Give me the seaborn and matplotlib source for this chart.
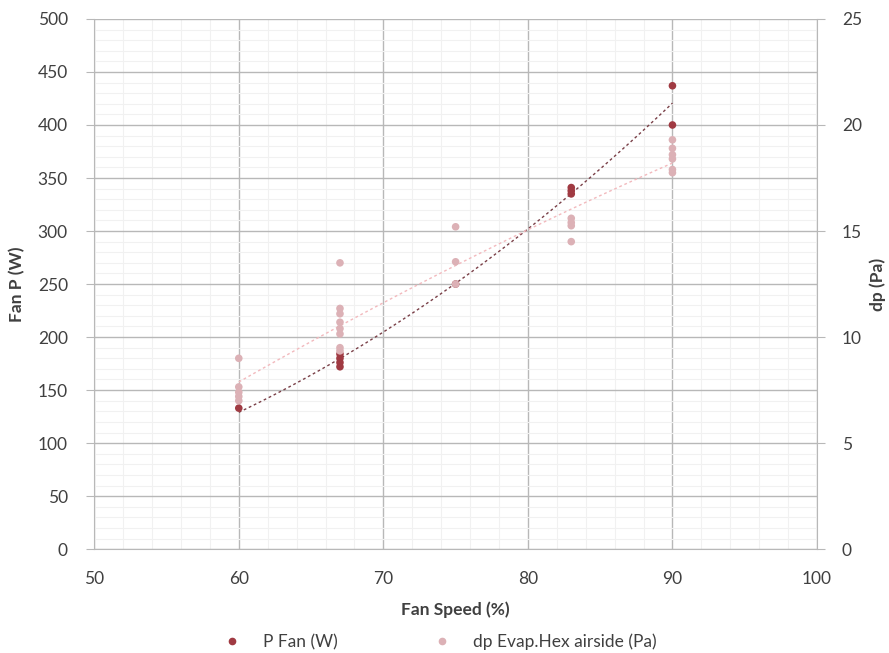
import numpy as np
import pandas as pd
import matplotlib
matplotlib.use("Agg")
import matplotlib.pyplot as plt
import seaborn as sns
from matplotlib.lines import Line2D
from matplotlib.ticker import MultipleLocator

# fan power (W) per fan speed (%)
p_speed = [60, 67, 67, 67, 67, 75, 83, 83, 83, 90, 90]
p_fan = [133, 172, 176, 180, 184, 250, 335, 338, 341, 400, 437]

# airside pressure drop (Pa) per fan speed (%)
dp_speed = [60, 60, 60, 60, 60,
            67, 67, 67, 67, 67, 67, 67, 67,
            75, 75, 75,
            83, 83, 83, 83,
            90, 90, 90, 90, 90, 90]
dp_hex = [9.0, 7.65, 7.4, 7.2, 7.0,
          13.5, 11.35, 11.1, 10.7, 10.4, 10.15, 9.5, 9.35,
          15.2, 13.55, 12.5,
          15.6, 15.4, 15.25, 14.5,
          19.3, 18.9, 18.6, 18.4, 17.9, 17.75]

df_p = pd.DataFrame({"speed": p_speed, "P": p_fan})
df_dp = pd.DataFrame({"speed": dp_speed, "dp": dp_hex})

dark = "#a03a42"
pink = "#dcb1b6"

sns.set_style("white")
plt.rcParams['font.family'] = ['Lato', 'DejaVu Sans']

fig, ax = plt.subplots(figsize=(8.89, 6.53), dpi=100)
fig.subplots_adjust(left=0.106, right=0.919, top=0.971, bottom=0.159)
ax2 = ax.twinx()

# trend lines (polynomial fits of the points)
xs = np.linspace(60, 90, 100)
cp = np.polyfit(p_speed, p_fan, 2)
cd = np.polyfit(dp_speed, dp_hex, 2)
sns.lineplot(x=xs, y=np.polyval(cp, xs), ax=ax, color="#7a4048",
             linestyle=(0, (2, 2)), linewidth=1.0, zorder=3)
sns.lineplot(x=xs, y=np.polyval(cd, xs), ax=ax2, color="#f2b9bd",
             linestyle=(0, (2, 2)), linewidth=1.0, zorder=3)

sns.scatterplot(data=df_dp, x="speed", y="dp", ax=ax2, color=pink,
                s=30, edgecolor="none", zorder=4)
sns.scatterplot(data=df_p, x="speed", y="P", ax=ax, color=dark,
                s=30, edgecolor="none", zorder=5)
ax2.set_zorder(ax.get_zorder() + 1)
ax2.patch.set_visible(False)

ax.set_xlim(50, 100)
ax.set_ylim(0, 500)
ax2.set_ylim(0, 25)
ax.xaxis.set_major_locator(MultipleLocator(10))
ax.xaxis.set_minor_locator(MultipleLocator(2))
ax.yaxis.set_major_locator(MultipleLocator(50))
ax.yaxis.set_minor_locator(MultipleLocator(10))
ax2.yaxis.set_major_locator(MultipleLocator(5))

ax.grid(which="major", color="#b8b8b8", linewidth=1.0)
ax.grid(which="minor", color="#f1f1f1", linewidth=0.8)
ax.set_axisbelow(True)

for a in (ax, ax2):
    for s in a.spines.values():
        s.set_visible(False)
ax.spines["left"].set_visible(True)
ax.spines["left"].set_color("#b8b8b8")
ax.spines["bottom"].set_visible(True)
ax.spines["bottom"].set_color("#b8b8b8")
ax2.spines["right"].set_visible(True)
ax2.spines["right"].set_color("#b8b8b8")

ax.tick_params(axis="both", which="major", length=6, color="#b8b8b8",
               labelsize=12.5, labelcolor="#404040")
ax.tick_params(axis="y", pad=13)
ax.tick_params(axis="x", pad=10)
ax.tick_params(axis="both", which="minor", length=0)
ax2.tick_params(axis="y", length=6, color="#b8b8b8", labelsize=12.5,
                labelcolor="#404040", pad=12)

ax.set_xlabel("Fan Speed (%)", fontsize=12.5, fontweight="bold",
              color="#404040", labelpad=10)
ax.set_ylabel("Fan P (W)", fontsize=12.5, fontweight="bold",
              color="#404040", labelpad=9)
ax2.set_ylabel("dp (Pa)", fontsize=12.5, fontweight="bold",
               color="#404040", labelpad=5)

handles = [
    Line2D([], [], marker="o", linestyle="none", color=dark, markersize=4.5),
    Line2D([], [], marker="o", linestyle="none", color=pink, markersize=4.5),
]
fig.legend(handles, ["P Fan (W)", "dp Evap.Hex airside (Pa)"],
           loc="lower center", bbox_to_anchor=(0.49, -0.02), ncol=2,
           frameon=False, fontsize=12.5, columnspacing=5.0,
           handletextpad=0.8, labelcolor="#404040")

fig.savefig("out.png", dpi=100)
